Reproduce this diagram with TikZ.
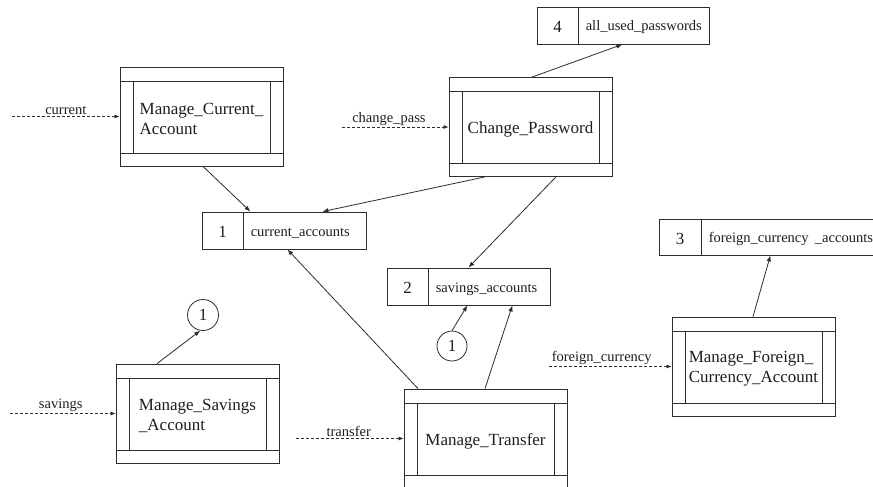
\documentclass[tikz,border=0pt]{standalone}
\usepackage{fontspec}
\setmainfont{Liberation Serif}
\usetikzlibrary{arrows.meta}
\definecolor{linec}{RGB}{45,45,45}
\definecolor{textc}{RGB}{30,30,30}
\begin{document}
\begin{tikzpicture}[x=1pt,y=-1pt,
  every node/.style={text=textc},
  bigtext/.style={font=\fontsize{17}{20}\selectfont},
  smalltext/.style={font=\fontsize{14.5}{17}\selectfont},
  proctext/.style={align=left, bigtext, inner sep=0pt, yshift=-2.5pt},
  proc/.style={draw=linec, line width=0.8pt, minimum width=163pt, minimum height=99pt,
    inner sep=0pt,
    path picture={
      \draw[linec, line width=0.8pt]
        ([yshift=-14pt]path picture bounding box.north west) -- ([yshift=-14pt]path picture bounding box.north east)
        ([yshift=13pt]path picture bounding box.south west) -- ([yshift=13pt]path picture bounding box.south east)
        ([xshift=13pt,yshift=-14pt]path picture bounding box.north west) -- ([xshift=13pt,yshift=13pt]path picture bounding box.south west)
        ([xshift=-13pt,yshift=-14pt]path picture bounding box.north east) -- ([xshift=-13pt,yshift=13pt]path picture bounding box.south east);
    }},
  storeid/.style={draw=linec, line width=0.8pt, minimum width=41pt, minimum height=37pt, inner sep=0pt,
    text height=14pt, text depth=0pt, bigtext},
  storename/.style={draw=linec, line width=0.8pt, minimum height=37pt, inner xsep=7pt, inner ysep=0pt,
    text height=11pt, text depth=0pt, align=left, anchor=west, smalltext},
  conn/.style={draw=linec, line width=0.8pt, -{Latex[length=6pt,width=4.5pt]}},
  inflow/.style={draw=linec, line width=0.7pt, dash pattern=on 3pt off 2pt, -{Latex[length=5pt,width=4pt]}},
  flowlabel/.style={above, inner sep=1.5pt, smalltext},
  ref/.style={draw=linec, line width=0.8pt, circle, minimum size=31pt, inner sep=0pt, bigtext}
]
\clip (0,0) rectangle (873,487);
\fill[white] (0,0) rectangle (873,487);

% processes
\node[proc, label={[proctext]center:{Manage\_Current\_\\Account}}] (pc) at (201.5,116.5) {};
\node[proc, label={[proctext]center:{Change\_Password}}] (pp) at (530.5,127) {};
\node[proc, label={[proctext]center:{Manage\_Foreign\_\\Currency\_Account}}] (pf) at (753.5,366.5) {};
\node[proc, label={[proctext]center:{Manage\_Savings\\\_Account}}] (ps) at (197.5,413.5) {};
\node[proc, label={[proctext]center:{Manage\_Transfer}}] (pt) at (485.5,438.5) {};

% data stores
\node[storeid] (s1i) at (222.5,230.5) {1};
\node[storename, text width=109pt] (s1n) at (s1i.east) {current\_accounts};
\node[storeid] (s2i) at (407.5,286.5) {2};
\node[storename, text width=108pt] (s2n) at (s2i.east) {savings\_accounts};
\node[storeid, minimum width=42pt, minimum height=36pt] (s3i) at (680,237) {3};
\node[storename, minimum height=36pt, text width=170pt] (s3n) at (s3i.east) {foreign\_currency\ \hspace{1.5pt}\_accounts};
\node[storeid] (s4i) at (557.5,25.5) {4};
\node[storename, text width=117pt] (s4n) at (s4i.east) {all\_used\_passwords};

% off-page references
\node[ref] (c1) at (203,315) {1};
\node[ref, minimum size=30pt] (c2) at (452,346) {1};

% data flows
\draw[conn] ([xshift=1.5pt]pc.south) -- ([xshift=7pt]s1n.north west);
\draw[conn] ([xshift=-45.5pt]pp.south) -- ([xshift=79pt]s1n.north west);
\draw[conn] ([xshift=25.5pt]pp.south) -- ([xshift=40pt]s2n.north west);
\draw[conn] ([xshift=1.5pt]pp.north) -- ([xshift=44pt]s4n.south west);
\draw[conn] ([xshift=-0.5pt]pf.north) -- ([xshift=69pt]s3n.south west);
\draw[conn] ([xshift=-40.5pt]ps.north) -- (c1.-100);
\draw[conn] (c2.north) -- ([xshift=39pt]s2n.south west);
\draw[conn] ([xshift=-67.5pt]pt.north) -- ([xshift=44pt]s1n.south west);
\draw[conn] ([xshift=-0.5pt]pt.north) -- ([xshift=84pt]s2n.south west);

% external inputs
\coordinate (inc) at (12,116.5);
\coordinate (inp) at (342,127);
\coordinate (inf) at (549,366.5);
\coordinate (ins) at (10,413.5);
\coordinate (int) at (296,438.5);
\draw[inflow] (inc) -- node[flowlabel] {current} (pc.west);
\draw[inflow] (inp) -- node[flowlabel, pos=0.44] {change\_pass} (pp.west);
\draw[inflow] (inf) -- node[flowlabel, pos=0.43] {foreign\_currency} (pf.west);
\draw[inflow] (ins) -- node[flowlabel, pos=0.48] {savings} (ps.west);
\draw[inflow] (int) -- node[flowlabel, pos=0.49] {transfer} (pt.west);
\end{tikzpicture}
\end{document}
